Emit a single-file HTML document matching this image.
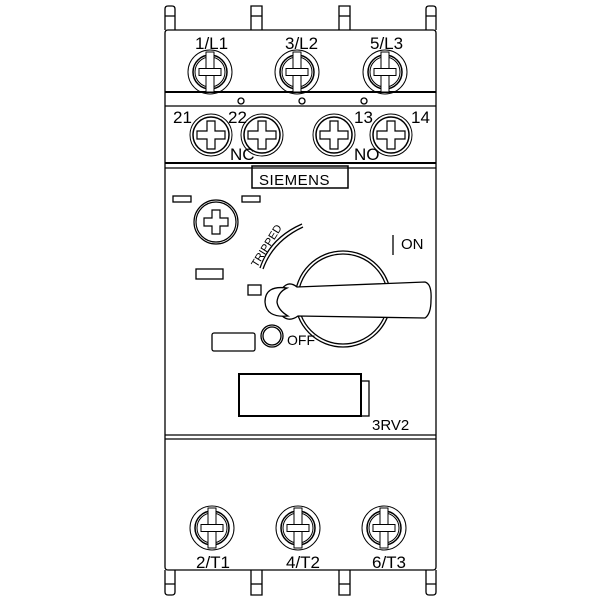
<!DOCTYPE html>
<html><head><style>html,body{margin:0;padding:0;background:#fff}svg{display:block}</style></head>
<body>
<svg width="600" height="600" viewBox="0 0 600 600" xmlns="http://www.w3.org/2000/svg" font-family="Liberation Sans, sans-serif">
<defs>
<g id="ts" fill="none" stroke="#000">
<circle r="22" stroke-width="1"/>
<circle r="17" stroke-width="1.5"/>
<circle r="15" stroke-width="1"/>
<rect x="-4" y="-20" width="8" height="40" fill="#fff"/>
<rect x="-11" y="-3.5" width="22" height="7" fill="#fff"/>
</g>
<g id="as" fill="none" stroke="#000">
<circle r="21" stroke-width="1"/>
<circle r="18" stroke-width="1.5"/>
<path d="M-4,-14 H4 V-4 H14 V4 H4 V14 H-4 V4 H-14 V-4 H-4 Z" stroke-width="1.2" fill="#fff"/>
</g>
</defs>
<g fill="none" stroke="#000" stroke-width="1.3">
<!-- tabs top -->
<path d="M165,30 V9 Q165,6 168,6 H172 Q175,6 175,9 V30"/>
<path d="M251,30 V6 H262 V30"/><path d="M251,16 H262"/>
<path d="M339,30 V6 H350 V30"/><path d="M339,16 H350"/>
<path d="M426,30 V9 Q426,6 429,6 H433 Q436,6 436,9 V30"/>
<path d="M165,16 H175 M426,16 H436"/>
<!-- body -->
<path d="M168,30 H433 Q436,30 436,33 V567 Q436,570 433,570 H168 Q165,570 165,567 V33 Q165,30 168,30 Z"/>
<line x1="165" y1="92" x2="436" y2="92" stroke-width="2"/>
<line x1="165" y1="106" x2="436" y2="106"/>
<line x1="165" y1="163" x2="436" y2="163" stroke-width="2"/>
<line x1="165" y1="168" x2="436" y2="168"/>
<line x1="165" y1="435" x2="436" y2="435"/>
<line x1="165" y1="439" x2="436" y2="439"/>
<circle cx="241" cy="101" r="3"/><circle cx="302" cy="101" r="3"/><circle cx="364" cy="101" r="3"/>
<!-- bottom tabs -->
<path d="M165,570 V592 Q165,595 168,595 H172 Q175,595 175,592 V570"/>
<path d="M251,570 V595 H262 V570"/><path d="M251,584 H262"/>
<path d="M339,570 V595 H350 V570"/><path d="M339,584 H350"/>
<path d="M426,570 V592 Q426,595 429,595 H433 Q436,595 436,592 V570"/>
<path d="M165,584 H175 M426,584 H436"/>
<!-- siemens box -->
<rect x="252" y="166" width="96" height="22" stroke-width="1.5"/>
<!-- small rects -->
<rect x="173" y="196" width="18" height="6"/>
<rect x="242" y="196" width="18" height="6"/>
<rect x="196" y="269" width="27" height="10"/>
<rect x="212" y="333" width="43" height="18" rx="2"/>
<rect x="248" y="285" width="13" height="10"/>
<circle cx="272" cy="336" r="11"/><circle cx="272" cy="336" r="9"/>
<rect x="239" y="374" width="122" height="42" stroke-width="2"/>
<rect x="361" y="381" width="8" height="35"/>
<line x1="393" y1="235" x2="393" y2="255"/>
<!-- tripped arc -->
<path d="M260,268 Q270,238 302,224"/><path d="M263,269 Q273,241 303,227"/>
<!-- handle -->
<circle cx="343" cy="299" r="48"/><circle cx="343" cy="299" r="45"/>
<path d="M280,292 Q287,279 297,287 L425,282 Q432,284 431,300 Q431,314 425,318 L298,316 Q287,324 279,312" fill="#fff"/>
<path d="M287,288 Q265,285 265,302 Q266,318 288,316 Q278,310 277,302 Q278,292 287,288 Z" fill="#fff"/>
</g>
<use href="#ts" x="210" y="72"/><use href="#ts" x="297" y="72"/><use href="#ts" x="385" y="72"/>
<use href="#ts" x="212" y="528"/><use href="#ts" x="298" y="528"/><use href="#ts" x="384" y="528"/>
<use href="#as" x="211" y="135"/><use href="#as" x="262" y="135"/><use href="#as" x="334" y="135"/><use href="#as" x="391" y="135"/>
<g fill="none" stroke="#000" stroke-width="1.2">
<circle cx="216" cy="222" r="22"/><circle cx="216" cy="222" r="20"/>
<path d="M212,210 H220 V218 H228 V226 H220 V234 H212 V226 H204 V218 H212 Z"/>
</g>
<g font-size="17" fill="#000">
<text x="195" y="49">1/L1</text><text x="285" y="49">3/L2</text><text x="370" y="49">5/L3</text>
<text x="173" y="123">21</text><text x="228" y="123">22</text><text x="354" y="123">13</text><text x="411" y="123">14</text>
<text x="230" y="160">NC</text><text x="354" y="160">NO</text>
<text x="196" y="568">2/T1</text><text x="286" y="568">4/T2</text><text x="372" y="568">6/T3</text>
<text x="259" y="185" font-size="15" letter-spacing="0.5">SIEMENS</text>
<text x="401" y="249" font-size="15">ON</text>
<text x="287" y="345" font-size="14">OFF</text>
<text x="372" y="430" font-size="15">3RV2</text>
<text x="0" y="0" font-size="11" transform="translate(257,268) rotate(-58)">TRIPPED</text>
</g>
</svg>
</body></html>
